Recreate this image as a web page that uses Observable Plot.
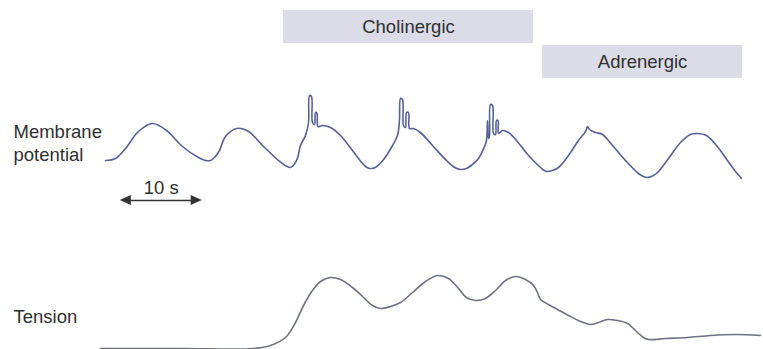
<!DOCTYPE html>
<html>
<head>
<meta charset="utf-8">
<script src="https://cdn.jsdelivr.net/npm/d3@7"></script>
<script src="https://cdn.jsdelivr.net/npm/@observablehq/plot@0.6"></script>
<style>
  html, body { margin: 0; padding: 0; background: #fff; }
  #chart svg { display: block; }
</style>
</head>
<body>
<div id="chart"></div>
<script>
// ---- Data (time in seconds, amplitudes in arbitrary units) ----
const membraneTime = [
  0, 1.22, 2.44, 4.02, 5.73, 7.44, 9.39, 11.34, 12.2, 12.80, 13.4, 13.9, 14.63, 15.98, 17.44, 19.15, 21.10,
  21.9, 22.56, 23.0, 23.4, 23.78, 24.39, 24.76, 24.88, 25.12, 25.24, 25.49, 25.61, 25.79, 25.91, 26.46, 27.44,
  28.66, 30.12, 31.34, 31.9, 32.32, 32.9, 33.5, 34.27, 35.00, 35.61, 35.85, 35.98, 36.22, 36.34, 36.59, 36.71,
  36.95, 37.07, 37.56, 38.41, 39.88, 41.59, 42.6, 43.29, 44.0, 44.6, 45.49, 46.22, 46.46, 46.59, 46.71, 46.83,
  46.95, 47.20, 47.32, 47.56, 47.68, 47.87, 47.93, 48.41, 49.15, 50.12, 51.59, 53.05, 53.5, 53.90, 54.5, 55.24,
  56.46, 57.68, 58.54, 58.78, 59.02, 59.76, 60.61, 61.83, 63.41, 65.00, 65.6, 66.10, 66.7, 67.32, 68.66, 70.12,
  71.34, 72.20, 73.29, 74.51, 75.85, 76.83, 77.56
];
const membraneValue = [
  20, 22, 32, 49, 57, 50, 34, 23, 20, 20, 24, 30, 44, 52, 49, 35, 20,
  15, 13, 16, 22, 35, 45, 58, 85, 84, 58, 56, 68, 67, 54, 55, 53,
  45, 30, 17, 13, 12, 13, 17, 25, 35, 45, 60, 82, 81, 55, 53, 68,
  68, 52, 52, 48, 35, 20, 13, 11, 12, 15, 22, 34, 40, 60, 42, 45,
  76, 75, 47, 46, 60, 60, 47, 50, 48, 40, 25, 13, 10, 9, 10, 13,
  25, 40, 49, 54, 51, 48, 46, 35, 20, 7, 4, 3, 4.5, 8, 22, 38,
  46, 47, 45, 35, 20, 9, 2
];
const tensionTime = [
  -0.61, 9.15, 18.05, 20.12, 21.95, 23.17, 24.15, 25.24, 26.22, 27.44, 28.66, 30.12, 31.34, 32.56,
  33.54, 34.76, 35.98, 37.44, 39.02, 40.49, 41.83, 43.05, 44.02, 45.12, 46.34, 47.56, 48.78, 50.00,
  51.22, 52.20, 52.68, 53.05, 54.02, 55.12, 56.46, 57.93, 59.15, 60.12, 61.22, 62.44, 63.66, 64.63,
  65.61, 66.22, 68.29, 70.98, 73.78, 76.83, 79.88
];
const tensionValue = [
  1, 1, 1, 4, 12, 27, 44, 59, 68, 72, 70, 62, 53, 44,
  41, 43, 47, 57, 68, 74, 71, 61, 52, 49, 51, 59, 69, 73,
  70, 64, 57, 50, 45, 40, 34, 28, 25, 27, 30, 29, 26, 19,
  12, 10, 11, 12, 14, 15, 14
];
const treatmentNames = ["Cholinergic", "Adrenergic"];
const treatmentStart = [21.7, 53.3];
const treatmentEnd = [52.2, 77.7];
const traceLabels = ["Membrane\npotential", "Tension"];
const scaleBarLabel = "10 s";
const scaleBarStart = 1.8;
const scaleBarLength = 10;

// ---- Build tables ----
const MEMBRANE_BASE = 169;   // vertical offset of the membrane trace
const TENSION_BASE = 0;      // vertical offset of the tension trace
const membrane = membraneTime.map((t, i) => ({t, v: membraneValue[i] + MEMBRANE_BASE}));
const tension = tensionTime.map((t, i) => ({t, v: tensionValue[i] + TENSION_BASE}));

const bandRows = [{y1: 306, y2: 339}, {y1: 271, y2: 304}];
const treatments = treatmentNames.map((name, i) => ({
  name, start: treatmentStart[i], end: treatmentEnd[i], y1: bandRows[i].y1, y2: bandRows[i].y2
}));

const labelRows = [{label: traceLabels[0], y: 189}, {label: traceLabels[1], y: 27}];

const barY = 149, headLen = 1.35, headHalf = 5;
const barStart = scaleBarStart, barEnd = scaleBarStart + scaleBarLength;
const shaft = [{x1: barStart + headLen * 0.8, x2: barEnd - headLen * 0.8, y: barY}];
const leftHead = [{t: barStart, y1: barY, y2: barY}, {t: barStart + headLen, y1: barY - headHalf, y2: barY + headHalf}];
const rightHead = [{t: barEnd - headLen, y1: barY - headHalf, y2: barY + headHalf}, {t: barEnd, y1: barY, y2: barY}];

const FONT = "'Liberation Sans', Arial, Helvetica, sans-serif";
const TEXT = "#2f2f2f";
const FS = 18.5;

const chart = Plot.plot({
  width: 763,
  height: 349,
  margin: 0,
  style: {background: "#fff", fontFamily: FONT},
  x: {domain: [-1, 80], range: [96.8, 761], axis: null},
  y: {domain: [0, 349], range: [349, 0], axis: null},
  marks: [
    Plot.rect(treatments, {x1: "start", x2: "end", y1: "y1", y2: "y2", fill: "#dcdce9"}),
    Plot.text(treatments, {x: d => (d.start + d.end) / 2, y: d => (d.y1 + d.y2) / 2, text: "name",
      fontSize: FS, fill: TEXT, fontFamily: FONT}),
    Plot.line(membrane, {x: "t", y: "v", stroke: "#56609a", strokeWidth: 1.6, curve: "catmull-rom"}),
    Plot.line(tension, {x: "t", y: "v", stroke: "#6f7284", strokeWidth: 1.6, curve: "catmull-rom"}),
    Plot.text(labelRows, {y: "y", text: "label", frameAnchor: "left", dx: 13, textAnchor: "start",
      lineAnchor: "bottom", lineHeight: 1.24, fontSize: FS, fill: TEXT, fontFamily: FONT}),
    Plot.link(shaft, {x1: "x1", x2: "x2", y1: "y", y2: "y", stroke: "#333", strokeWidth: 1.6}),
    Plot.areaY(leftHead, {x: "t", y1: "y1", y2: "y2", fill: "#333"}),
    Plot.areaY(rightHead, {x: "t", y1: "y1", y2: "y2", fill: "#333"}),
    Plot.text([scaleBarLabel], {x: barStart + scaleBarLength / 2, y: barY + 7, text: d => d,
      lineAnchor: "bottom", fontSize: FS, fill: TEXT, fontFamily: FONT})
  ]
});
document.getElementById("chart").appendChild(chart);
</script>
</body>
</html>
